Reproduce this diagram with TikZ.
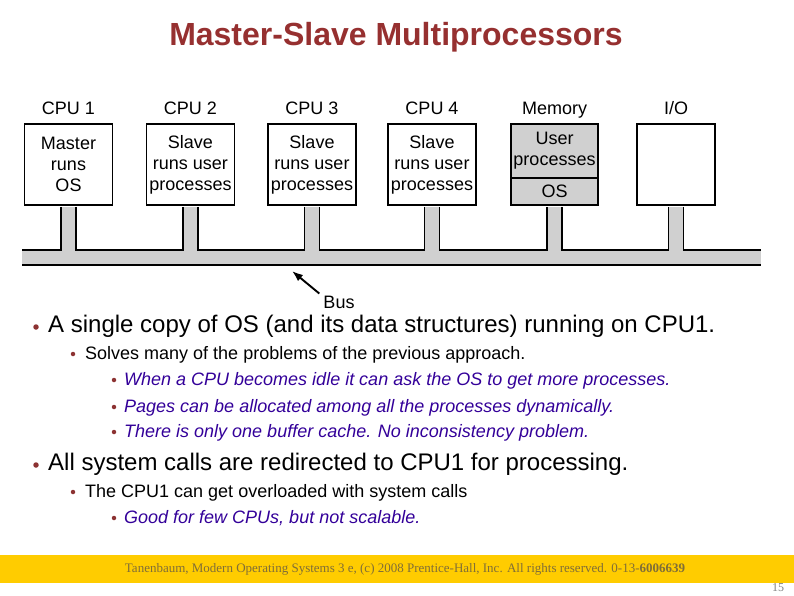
\documentclass[tikz,border=0pt]{standalone}
\usepackage{fontspec}
\setmainfont{Liberation Sans}
\newfontfamily\footfont{Liberation Serif}
\usetikzlibrary{positioning, arrows.meta}
\definecolor{titlered}{RGB}{150,48,48}
\definecolor{dotred}{RGB}{140,50,50}
\definecolor{itblue}{RGB}{51,0,153}
\definecolor{busgray}{RGB}{208,208,208}
\definecolor{footyellow}{RGB}{255,204,0}
\definecolor{foottext}{RGB}{128,110,56}

\begin{document}
\begin{tikzpicture}[x=1pt, y=-1pt,
  wire/.style={line width=1.9pt},
  unit/.style={draw, wire, minimum width=88pt, minimum height=81pt, inner sep=0pt,
    align=center, font=\fontsize{18}{21}\selectfont},
  toplbl/.style={anchor=base, inner sep=0pt, font=\fontsize{18}{21}\selectfont},
  lvlone/.style={anchor=base west, inner sep=0pt, font=\fontsize{24}{28}\selectfont},
  lvltwo/.style={anchor=base west, inner sep=0pt, font=\fontsize{18}{21}\selectfont},
  lvlthree/.style={lvltwo, text=itblue, font=\fontsize{18}{21}\selectfont\itshape},
  dot/.style={circle, fill=dotred, inner sep=0pt, minimum size=#1}]
  \useasboundingbox (0,0) rectangle (794,595);
  % Title
  \node[text=titlered, font=\fontsize{32}{36}\selectfont\bfseries] (title) at (396,37)
    {Master-Slave Multiprocessors};
  % Units
  \node[unit] (cpu1) at (68.5,164.5) {Master\\runs\\OS};
  \node[unit] (cpu2) at (190.5,164.5) {Slave\\runs user\\processes};
  \node[unit] (cpu3) at (312,164.5) {Slave\\runs user\\processes};
  \node[unit] (cpu4) at (432,164.5) {Slave\\runs user\\processes};
  \node[unit, fill=busgray, minimum width=87pt, minimum height=54pt] (memup) at (554.5,151)
    {User\\processes};
  \node[unit, fill=busgray, minimum width=87pt, minimum height=27pt] (memos) at (554.5,191.5) {OS};
  \node[unit, minimum width=78pt] (io) at (676,164.5) {};
  \node[toplbl] at ([yshift=9pt]cpu1.north) {CPU 1};
  \node[toplbl] at ([yshift=9pt]cpu2.north) {CPU 2};
  \node[toplbl] at ([yshift=9pt]cpu3.north) {CPU 3};
  \node[toplbl] at ([yshift=9pt]cpu4.north) {CPU 4};
  \node[toplbl] at ([yshift=9pt]memup.north) {Memory};
  \node[toplbl] at ([yshift=9pt]io.north) {I/O};
  % Bus
  \coordinate (bustop) at (0,250.95);
  \fill[busgray] (22,250) rectangle (761,265);
  \draw[wire] (22,250) -- (761,250);
  \draw[wire] (22,265) -- (761,265);
  \foreach \b in {cpu1,cpu2,cpu3,cpu4,memos,io} {
    \path ([yshift=-0.95pt]\b.south) ++(-7.5,0) coordinate (sl) ++(15,0) coordinate (sr);
    \fill[busgray] (sl) rectangle (sr |- bustop);
    \draw[wire] (sl) -- (sl |- bustop) (sr) -- (sr |- bustop);
  }
  \node[toplbl, anchor=center] (bus) at (339,302) {Bus};
  \coordinate (bustip) at (292,271);
  \draw[wire, -{Latex[length=11pt,width=8pt]}] ([shift={(-4pt,2pt)}]bus.north west) -- (bustip);
  % Bullets
  \node[dot=5.5pt] at (36,327) {};
  \node[lvlone] (a1) at (48,332) {A single copy of OS (and its data structures) running on CPU1.};
  \node[dot=4.5pt] at (73,354) {};
  \node[lvltwo] (a2) at (85,359) {Solves many of the problems of the previous approach.};
  \node[dot=4.5pt] at (114,380) {};
  \node[lvlthree] (a3) at (124,385) {When a CPU becomes idle it can ask the OS to get more processes.};
  \node[dot=4.5pt] at (114,407) {};
  \node[lvlthree] (a4) at (124,412) {Pages can be allocated among all the processes dynamically.};
  \node[dot=4.5pt] at (114,432) {};
  \node[lvlthree] (a5) at (124,437) {There is only one buffer cache. No inconsistency problem.};
  \node[dot=5.5pt] at (36,465) {};
  \node[lvlone] (b1) at (48,470) {All system calls are redirected to CPU1 for processing.};
  \node[dot=4.5pt] at (73,492) {};
  \node[lvltwo] (b2) at (85,497) {The CPU1 can get overloaded with system calls};
  \node[dot=4.5pt] at (114,518) {};
  \node[lvlthree] (b3) at (124,523) {Good for few CPUs, but not scalable.};
  % Footer
  \fill[footyellow] (0,555) rectangle (794,583);
  \node[text=foottext, font=\footfont\fontsize{13}{15}\selectfont] (foot) at (405,569)
    {Tanenbaum, Modern Operating Systems 3 e, (c) 2008 Prentice-Hall, Inc. All rights reserved. 0-13-\textbf{6006639}};
  \node[text=gray, font=\footfont\fontsize{12}{14}\selectfont] (page) at (778,588) {15};
\end{tikzpicture}
\end{document}
